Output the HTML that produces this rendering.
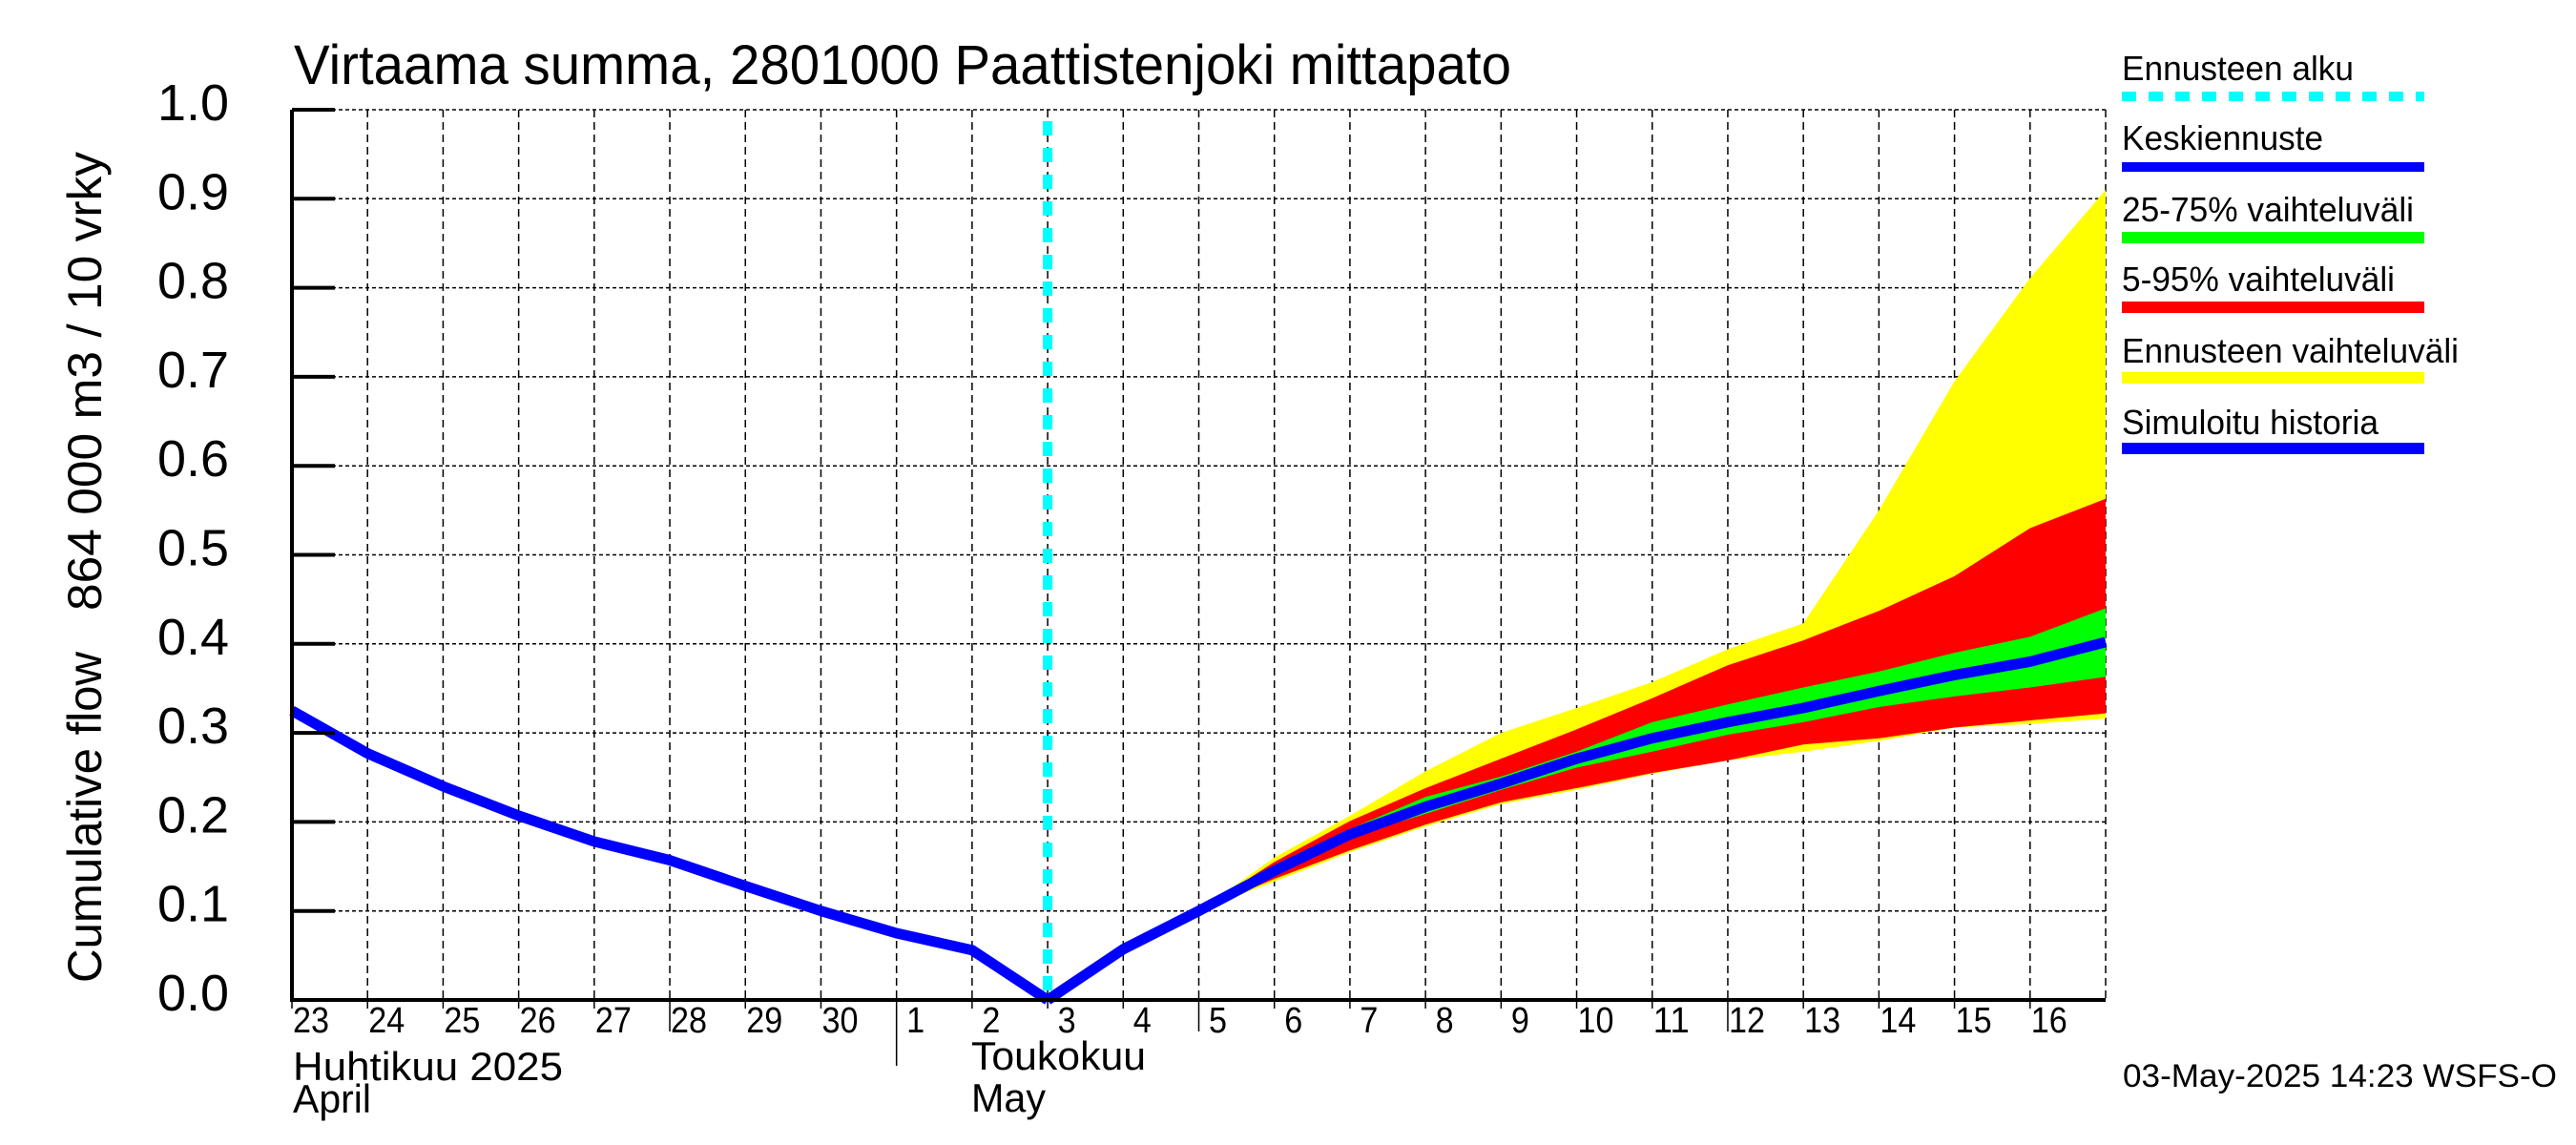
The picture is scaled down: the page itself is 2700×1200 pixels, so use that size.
<!DOCTYPE html>
<html><head><meta charset="utf-8"><style>
html,body{margin:0;padding:0;background:#fff;}
svg{display:block;font-family:"Liberation Sans",sans-serif;}
</style></head><body>
<svg id="chart" width="2700" height="1200" viewBox="0 0 2700 1200" xmlns="http://www.w3.org/2000/svg">
<rect width="2700" height="1200" fill="#fff"/>
<text x="308" y="88" font-size="58" textLength="1276" lengthAdjust="spacingAndGlyphs">Virtaama summa, 2801000 Paattistenjoki mittapato</text>
<g id="grid"></g>
<g id="bands"></g>
<g id="lines"></g>
<g id="axes"></g>
<text transform="translate(106,1030) rotate(-90)" font-size="50" textLength="347" lengthAdjust="spacingAndGlyphs">Cumulative flow</text>
<text transform="translate(106,640) rotate(-90)" font-size="50" textLength="481" lengthAdjust="spacingAndGlyphs">864 000 m3 / 10 vrky</text>
<text x="307" y="1132" font-size="42" textLength="283" lengthAdjust="spacingAndGlyphs">Huhtikuu  2025</text>
<text x="307" y="1166" font-size="42" textLength="82" lengthAdjust="spacingAndGlyphs">April</text>
<text x="1018" y="1121" font-size="42" textLength="183" lengthAdjust="spacingAndGlyphs">Toukokuu</text>
<text x="1018" y="1165" font-size="42" textLength="78" lengthAdjust="spacingAndGlyphs">May</text>
<g>
<text x="2224" y="84" font-size="36" textLength="243" lengthAdjust="spacingAndGlyphs">Ennusteen alku</text>
<line x1="2224" y1="101" x2="2541" y2="101" stroke="#00ffff" stroke-width="10" stroke-dasharray="15 13"/>
<text x="2224" y="157" font-size="36" textLength="211" lengthAdjust="spacingAndGlyphs">Keskiennuste</text>
<rect x="2224" y="170" width="317" height="10" fill="#0000ff"/>
<text x="2224" y="232" font-size="36" textLength="306" lengthAdjust="spacingAndGlyphs">25-75% vaihteluväli</text>
<rect x="2224" y="243" width="317" height="12" fill="#00ff00"/>
<text x="2224" y="305" font-size="36" textLength="286" lengthAdjust="spacingAndGlyphs">5-95% vaihteluväli</text>
<rect x="2224" y="316" width="317" height="12" fill="#ff0000"/>
<text x="2224" y="380" font-size="36" textLength="353" lengthAdjust="spacingAndGlyphs">Ennusteen vaihteluväli</text>
<rect x="2224" y="390" width="317" height="12" fill="#ffff00"/>
<text x="2224" y="455" font-size="36" textLength="269" lengthAdjust="spacingAndGlyphs">Simuloitu historia</text>
<rect x="2224" y="464" width="317" height="12" fill="#0000ff"/>
</g>
<text x="2225" y="1139" font-size="34" textLength="455" lengthAdjust="spacingAndGlyphs">03-May-2025 14:23 WSFS-O</text>
</svg>
<script>
const dayLabels = ["23","24","25","26","27","28","29","30","1","2","3","4","5","6","7","8","9","10","11","12","13","14","15","16"];
const yTicks = ["0.0","0.1","0.2","0.3","0.4","0.5","0.6","0.7","0.8","0.9","1.0"];
const historyIdx = [0,1,2,3,4,5,6,7,8,9,10];
const historyVals = [0.325,0.277,0.240,0.207,0.178,0.157,0.128,0.100,0.075,0.056,0.0];
const fcIdx = [10,11,12,13,14,15,16,17,18,19,20,21,22,23,24];
const meanVals = [0.0,0.057,0.100,0.145,0.186,0.217,0.243,0.271,0.294,0.312,0.328,0.347,0.365,0.380,0.402];
const p75Vals  = [0.0,0.057,0.100,0.148,0.192,0.228,0.251,0.279,0.312,0.332,0.351,0.369,0.390,0.408,0.440];
const p25Vals  = [0.0,0.057,0.100,0.142,0.183,0.209,0.236,0.261,0.279,0.298,0.312,0.329,0.341,0.351,0.363];
const p95Vals  = [0.0,0.057,0.100,0.155,0.201,0.238,0.271,0.304,0.339,0.376,0.404,0.437,0.476,0.530,0.563];
const p5Vals   = [0.0,0.057,0.100,0.136,0.168,0.197,0.222,0.238,0.255,0.269,0.287,0.294,0.306,0.314,0.322];
const maxVals  = [0.0,0.057,0.100,0.160,0.207,0.257,0.300,0.328,0.357,0.394,0.423,0.550,0.695,0.811,0.910];
const minVals  = [0.0,0.057,0.100,0.133,0.166,0.195,0.220,0.236,0.254,0.269,0.279,0.291,0.306,0.310,0.316];
const forecastStartIdx = 10;

const NS="http://www.w3.org/2000/svg";
const X0=306, X1=2207, Y0=1048, Y1=115, NDAYS=24;
function xs(i){return X0+(X1-X0)*i/NDAYS;}
function ys(v){return Y0-(Y0-Y1)*v/1.0;}
function mk(tag,attrs,parent){const e=document.createElementNS(NS,tag);for(const k in attrs)e.setAttribute(k,attrs[k]);parent.appendChild(e);return e;}
const grid=document.getElementById('grid'),bands=document.getElementById('bands'),lines=document.getElementById('lines'),axes=document.getElementById('axes');

yTicks.forEach((t,i)=>{
  const v=parseFloat(t);
  const g=mk('line',{x1:X0,y1:ys(v),x2:X1,y2:ys(v),stroke:'#000','stroke-width':1.5,'stroke-dasharray':'4 3'},grid);
  
  
  const tk=mk('line',{x1:X0,y1:ys(v),x2:X0+45,y2:ys(v),stroke:'#000','stroke-width':4},axes);
  
  
  const tx=mk('text',{x:240,y:ys(v)+11,'font-size':54,'text-anchor':'end',textLength:75,lengthAdjust:'spacingAndGlyphs'},axes);
  tx.textContent=t;
  
  
});
for(let i=1;i<=NDAYS;i++){
  const g=mk('line',{x1:xs(i),y1:Y1,x2:xs(i),y2:Y0,stroke:'#000','stroke-width':1.5,'stroke-dasharray':'8 5'},grid);
  
  
}
dayLabels.forEach((d,i)=>{
  const len = (d==="1") ? 1117 : ((d==="28"||d==="5"||d==="12") ? 1081 : 1057);
  const tk=mk('line',{x1:xs(i),y1:Y0,x2:xs(i),y2:len,stroke:'#000','stroke-width':1.5},axes);
  
  
  const tx=mk('text',{x:xs(i)+20,y:1082,'font-size':38,'text-anchor':'middle',textLength:d.length*19,lengthAdjust:'spacingAndGlyphs'},axes);
  tx.textContent=d;
  
  
});

function bandPath(up,lo){
  let s='';
  fcIdx.forEach((ix,k)=>{s+=(k?'L':'M')+xs(ix)+','+ys(up[k]);});
  for(let k=fcIdx.length-1;k>=0;k--)s+='L'+xs(fcIdx[k])+','+ys(lo[k]);
  return s+'Z';
}
const b1=mk('path',{d:bandPath(maxVals,minVals),fill:'#ffff00'},bands);


const b2=mk('path',{d:bandPath(p95Vals,p5Vals),fill:'#ff0000'},bands);


const b3=mk('path',{d:bandPath(p75Vals,p25Vals),fill:'#00ff00'},bands);



const cy=mk('line',{x1:xs(forecastStartIdx),y1:127,x2:xs(forecastStartIdx),y2:Y0,stroke:'#00ffff','stroke-width':10,'stroke-dasharray':'15 13'},lines);



function linePts(idx,vals){return idx.map((ix,k)=>xs(ix)+','+ys(vals[k])).join(' ');}
const hl=mk('polyline',{points:linePts(historyIdx,historyVals),fill:'none',stroke:'#0000ff','stroke-width':11,'stroke-linejoin':'round'},lines);


const ml=mk('polyline',{points:linePts(fcIdx,meanVals),fill:'none',stroke:'#0000ff','stroke-width':11,'stroke-linejoin':'round'},lines);



const ax1=mk('line',{x1:X0,y1:Y1,x2:X0,y2:Y0+2,stroke:'#000','stroke-width':4},axes);


const ax2=mk('line',{x1:X0-2,y1:Y0,x2:X1,y2:Y0,stroke:'#000','stroke-width':4},axes);


</script>
</body></html>
